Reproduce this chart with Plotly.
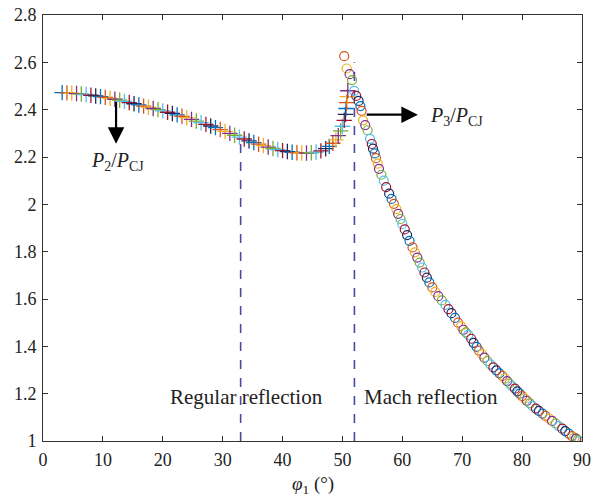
import plotly.graph_objects as go

# ---- data ----
rr_phi = [3.2, 4.0, 4.8, 5.6, 6.4, 7.2, 8.0, 8.8, 9.6, 10.4, 11.2, 12.0, 12.8, 13.6, 14.4,
          15.2, 16.0, 16.8, 17.6, 18.4, 19.2, 20.0, 20.8, 21.6, 22.4, 23.2, 24.0, 24.8,
          25.6, 26.4, 27.2, 28.0, 28.8, 29.6, 30.4, 31.2, 32.0, 32.8, 33.6, 34.4, 35.2,
          36.0, 36.8, 37.6, 38.4, 39.2, 40.0, 40.8, 41.6, 42.4, 43.2, 44.0, 44.8, 45.6,
          46.4, 47.2, 47.8, 48.4, 48.9, 49.3, 49.7, 50.0, 50.3, 50.5, 50.6, 50.7, 50.8, 50.9]
rr_p2 = [2.472, 2.471, 2.470, 2.468, 2.466, 2.464, 2.461, 2.458, 2.455, 2.452, 2.448, 2.444,
         2.440, 2.435, 2.430, 2.425, 2.420, 2.415, 2.410, 2.405, 2.400, 2.395, 2.389, 2.384,
         2.378, 2.372, 2.366, 2.359, 2.352, 2.345, 2.338, 2.331, 2.324, 2.316, 2.308, 2.300,
         2.292, 2.284, 2.276, 2.268, 2.261, 2.254, 2.248, 2.242, 2.236, 2.231, 2.227, 2.223,
         2.220, 2.218, 2.217, 2.217, 2.218, 2.221, 2.226, 2.235, 2.245, 2.258, 2.272, 2.290,
         2.310, 2.330, 2.355, 2.380, 2.405, 2.430, 2.455, 2.480]

mr_phi = [50.3, 50.7, 51.2, 51.6, 51.95, 52.3, 52.7, 53.0, 53.2, 53.45, 53.8, 54.2, 54.6,
          54.9, 55.1, 55.4, 55.6, 55.9, 56.1, 56.5, 56.9, 57.3, 57.8, 58.2, 58.6, 59.0,
          59.3, 59.7, 60.0, 60.4, 60.8, 61.2, 61.7, 62.1, 62.5, 62.9, 63.3, 63.7, 64.1,
          64.5, 65.0, 65.5, 66.0, 66.6, 67.2, 67.7, 68.2, 68.8, 69.3, 69.8, 70.2, 70.6,
          71.0, 71.5, 71.9, 72.4, 72.8, 73.3, 73.7, 74.2, 74.7, 75.2, 75.7, 76.2, 76.7,
          77.1, 77.5, 77.9, 78.3, 78.8, 79.2, 79.6, 80.0, 80.4, 80.8, 81.3, 81.7, 82.3,
          82.8, 83.4, 83.9, 84.5, 85.0, 85.6, 86.1, 86.7, 87.2, 87.8, 88.3, 88.7, 89.0,
          89.3, 89.6]
mr_p3 = [2.626, 2.574, 2.550, 2.525, 2.479, 2.458, 2.437, 2.415, 2.395, 2.355, 2.335, 2.313,
         2.277, 2.255, 2.235, 2.215, 2.195, 2.172, 2.150, 2.125, 2.100, 2.073, 2.045, 2.023,
         2.002, 1.980, 1.960, 1.938, 1.917, 1.894, 1.870, 1.846, 1.818, 1.797, 1.775, 1.754,
         1.733, 1.712, 1.690, 1.670, 1.649, 1.630, 1.612, 1.594, 1.575, 1.557, 1.540, 1.520,
         1.500, 1.485, 1.470, 1.459, 1.448, 1.432, 1.415, 1.398, 1.382, 1.367, 1.352, 1.338,
         1.324, 1.311, 1.298, 1.286, 1.275, 1.264, 1.253, 1.243, 1.232, 1.221, 1.210, 1.200,
         1.190, 1.180, 1.170, 1.159, 1.148, 1.137, 1.127, 1.116, 1.106, 1.095, 1.085, 1.074,
         1.063, 1.052, 1.042, 1.031, 1.021, 1.014, 1.010, 1.005, 1.000]

boundary_phi = [33, 52]          # dashed separators
boundary_top = [2.27, 2.60]

x_ticks = [0, 10, 20, 30, 40, 50, 60, 70, 80, 90]
y_ticks = [1, 1.2, 1.4, 1.6, 1.8, 2, 2.2, 2.4, 2.6, 2.8]
y_tick_text = ["1", "1.2", "1.4", "1.6", "1.8", "2", "2.2", "2.4", "2.6", "2.8"]

palette = ["#0072BD", "#D95319", "#EDB120", "#7E2F8E", "#77AC30", "#4DBEEE", "#A2142F", "#1F2A5A"]

FONT = "Liberation Serif"
TXT = "#222222"

fig = go.Figure()

for bx, bt in zip(boundary_phi, boundary_top):
    fig.add_trace(go.Scatter(x=[bx, bx], y=[1, bt], mode="lines",
                             line=dict(color="#4A4AA6", width=1.6, dash="dash"),
                             showlegend=False, hoverinfo="skip"))

rr_colors = [palette[i % len(palette)] for i in range(len(rr_phi))]
mr_colors = [palette[(i + 1) % len(palette)] for i in range(len(mr_phi))]

fig.add_trace(go.Scatter(
    x=rr_phi, y=rr_p2, mode="markers", showlegend=False,
    marker=dict(symbol="cross-thin-open", size=11, color=rr_colors,
                line=dict(width=1.3, color=rr_colors))))

fig.add_trace(go.Scatter(
    x=mr_phi, y=mr_p3, mode="markers", showlegend=False,
    marker=dict(symbol="circle-open", size=9, color=mr_colors,
                line=dict(width=1.2, color=mr_colors))))

annotations = [
    dict(x=12.2, y=2.256, ax=12.2, ay=2.44, xref="x", yref="y", axref="x", ayref="y",
         showarrow=True, arrowhead=2, arrowsize=1.5, arrowwidth=2.2, arrowcolor="black", text=""),
    dict(x=62.6, y=2.379, ax=53.8, ay=2.379, xref="x", yref="y", axref="x", ayref="y",
         showarrow=True, arrowhead=2, arrowsize=1.5, arrowwidth=2.2, arrowcolor="black", text=""),
    dict(x=12.4, y=2.18, xref="x", yref="y", showarrow=False,
         text="<i>P</i><sub>2</sub>/<i>P</i><sub>CJ</sub>", font=dict(family=FONT, size=20, color=TXT)),
    dict(x=69.0, y=2.37, xref="x", yref="y", showarrow=False,
         text="<i>P</i><sub>3</sub>/<i>P</i><sub>CJ</sub>", font=dict(family=FONT, size=20, color=TXT)),
    dict(x=33.9, y=1.186, xref="x", yref="y", showarrow=False,
         text="Regular reflection", font=dict(family=FONT, size=21, color=TXT)),
    dict(x=64.8, y=1.186, xref="x", yref="y", showarrow=False,
         text="Mach reflection", font=dict(family=FONT, size=21, color=TXT)),
    dict(x=0.5, y=-0.103, xref="paper", yref="paper", yanchor="middle", showarrow=False,
         text="<i>φ</i><sub>1</sub> (°)", font=dict(family=FONT, size=19, color=TXT)),
]

axis_common = dict(showline=True, linecolor="#333", linewidth=1, mirror="ticks",
                   ticks="inside", ticklen=5, tickcolor="#333", showgrid=False, zeroline=False,
                   automargin=False,
                   tickfont=dict(family=FONT, size=18, color=TXT))

fig.update_layout(
    width=593, height=501,
    margin=dict(l=43, r=11, t=15, b=60),
    paper_bgcolor="white", plot_bgcolor="white",
    font=dict(family=FONT, color=TXT),
    annotations=annotations,
    xaxis=dict(range=[0, 90], tickvals=x_ticks, ticklabelstandoff=2, **axis_common),
    yaxis=dict(range=[1, 2.8], tickvals=y_ticks, ticktext=y_tick_text, ticklabelstandoff=2,
               **axis_common),
)

# remove the default 8px page margin so the figure sits at the window's corner
fig.write_html("out.html", config={"displayModeBar": False},
               post_script="document.body.style.margin='0px';")
